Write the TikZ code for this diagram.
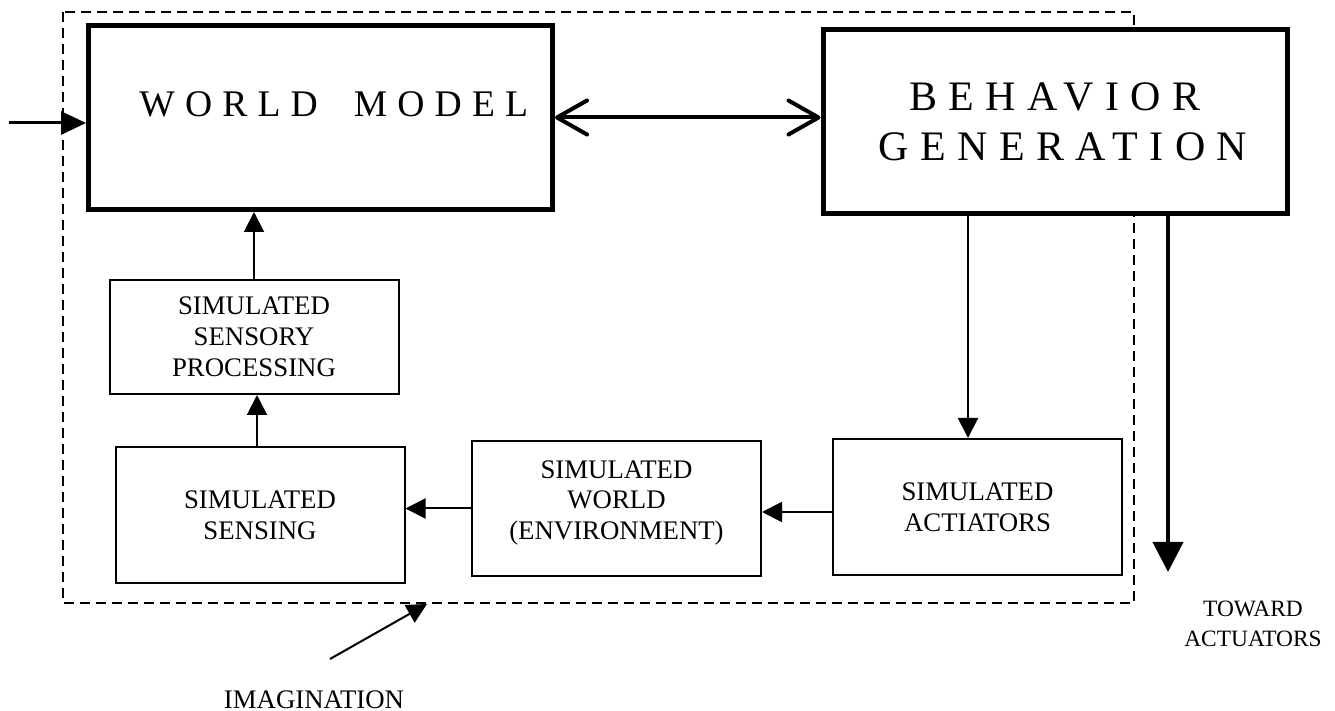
\documentclass[tikz,border=0pt]{standalone}
\usepackage{fontspec}
\setmainfont{Liberation Serif}
\newfontfamily\spacedfont[LetterSpace=27]{Liberation Serif}
\usetikzlibrary{arrows.meta, calc, positioning}

\begin{document}
\begin{tikzpicture}[x=0.5pt, y=-0.5pt,
        frame/.style={line width=1pt, dash pattern=on 5pt off 3pt},
        simbox/.style={draw, line width=1pt, minimum width=144.5pt, align=center,
            font=\fontsize{13.4}{15.4}\selectfont},
        mainbox/.style={draw, line width=2.5pt, fill=white, minimum width=232pt, minimum height=92pt},
        thinarrow/.style={line width=1pt, -{Triangle[length=10pt, width=10pt]}},
        bigarrow/.style={line width=2pt, -{Triangle[length=15pt, width=15pt]}},
        barbs/.style={line width=2pt, line cap=round,
            {Straight Barb[length=15pt, width=17pt, round]}-{Straight Barb[length=15pt, width=17pt, round]}}]
                    \useasboundingbox (0,0) rectangle (1335,711);
                    \draw[frame] (63,12) rectangle (1134,603);

                    \node [mainbox] (Wm) at (320.5,117.5) {};
                    \node [anchor=base west, inner sep=0pt, font=\fontsize{18.8}{22}\spacedfont] (WmText) at (139,117) {WORLD\hspace{18pt}MODEL};
                    \node [mainbox, align=center, font=\fontsize{21}{25}\spacedfont] (Bg) at (1055,122) {BEHAVIOR\\\hspace*{8pt}GENERATION};

                    \node [simbox, minimum height=57pt] (Ssp) at (254,337) {SIMULATED\\SENSORY\\PROCESSING};
                    \node [simbox, minimum height=68pt] (Sens) at (260,515) {SIMULATED\\SENSING};
                    \node [simbox, minimum height=67.5pt] (World) at (616.5,508.5) {SIMULATED\\WORLD\\(ENVIRONMENT)\\[-7pt]\mbox{}};
                    \node [simbox, minimum height=68pt] (Act) at (977.5,507) {SIMULATED\\ACTIATORS};

                    \coordinate (In) at (9,123);
                    \coordinate (Out) at (1168,572);
                    \coordinate (ImTail) at (330,659);
                    \coordinate (ImTip) at (427,604);

                    \draw [line width=1.5pt, -{Triangle[length=12.5pt, width=11.5pt]}] (In) -- (In -| Wm.west);
                    \draw [barbs] (Wm.east) -- (Wm.east -| Bg.west);
                    \draw [thinarrow] (Ssp.north) -- (Ssp.north |- Wm.south);
                    \draw [thinarrow] ([xshift=-1.5pt]Sens.north) -- ([xshift=-1.5pt]Sens.north |- Ssp.south);
                    \draw [thinarrow] ([xshift=-4.75pt]Act.north |- Bg.south) -- ([xshift=-4.75pt]Act.north);
                    \draw [thinarrow] ([yshift=-2.5pt]Act.west) -- ([yshift=-2.5pt]Act.west -| World.east);
                    \draw [thinarrow] (World.west) -- (World.west -| Sens.east);
                    \draw [bigarrow] (Out |- Bg.south) -- (Out);
                    \draw [thinarrow] (ImTail) -- (ImTip);

                    \node [align=center, font=\fontsize{11.7}{15}\selectfont] (Toward) at (1253,623.5) {TOWARD\\ACTUATORS};
                    \node [anchor=base, font=\fontsize{13.4}{15.4}\selectfont] (Imag) at (314,708) {IMAGINATION};
            \end{tikzpicture}
\end{document}
